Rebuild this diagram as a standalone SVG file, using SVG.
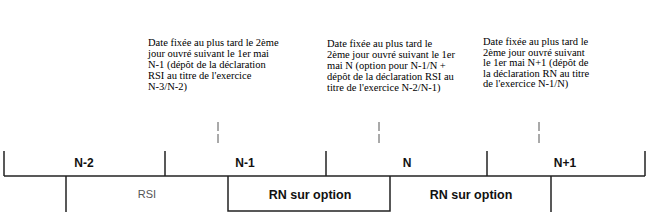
<svg xmlns="http://www.w3.org/2000/svg" width="650" height="216" viewBox="0 0 650 216">
<style>
.note{font-family:"Liberation Serif","Times New Roman",serif;font-size:10.5px;fill:#000}
.yr{font-family:"Liberation Sans",Arial,sans-serif;font-size:12px;font-weight:bold;fill:#111;text-anchor:middle}
.reg{font-family:"Liberation Sans",Arial,sans-serif;font-size:11px;fill:#555;text-anchor:middle}
.regb{font-family:"Liberation Sans",Arial,sans-serif;font-size:12.5px;font-weight:bold;fill:#111;text-anchor:middle}
.ln{stroke:#222;stroke-width:1.5;fill:none}
.dash{stroke:#555;stroke-width:1;stroke-dasharray:9 3;fill:none}
</style>
<rect width="650" height="216" fill="#fff"/>
<g id="note1">
<text class="note" x="148" y="46">Date fixée au plus tard le 2ème</text>
<text class="note" x="148" y="57">jour ouvré suivant le 1er mai</text>
<text class="note" x="148" y="68">N-1 (dépôt de la déclaration</text>
<text class="note" x="148" y="79">RSI au titre de l'exercice</text>
<text class="note" x="148" y="90">N-3/N-2)</text>
</g>
<g id="note2">
<text class="note" x="327" y="47">Date fixée au plus tard le</text>
<text class="note" x="327" y="58">2ème jour ouvré suivant le 1er</text>
<text class="note" x="327" y="69">mai N (option pour N-1/N +</text>
<text class="note" x="327" y="80">dépôt de la déclaration RSI au</text>
<text class="note" x="327" y="91">titre de l'exercice N-2/N-1)</text>
</g>
<g id="note3">
<text class="note" x="483" y="45">Date fixée au plus tard le</text>
<text class="note" x="483" y="56">2ème jour ouvré suivant</text>
<text class="note" x="483" y="66">le 1er mai N+1 (dépôt de</text>
<text class="note" x="483" y="77">la déclaration RN au titre</text>
<text class="note" x="483" y="87">de l'exercice N-1/N)</text>
</g>
<g id="connectors">
<line class="dash" x1="218" y1="122" x2="218" y2="143"/>
<line class="dash" x1="379" y1="122" x2="379" y2="143"/>
<line class="dash" x1="539" y1="122" x2="539" y2="143"/>
<line class="ln" x1="4" y1="176" x2="645" y2="176"/>
<line class="ln" x1="4" y1="151" x2="4" y2="176"/>
<line class="ln" x1="165" y1="151" x2="165" y2="176"/>
<line class="ln" x1="326" y1="151" x2="326" y2="176"/>
<line class="ln" x1="487" y1="151" x2="487" y2="176"/>
<line class="ln" x1="645" y1="151" x2="645" y2="176"/>
<line class="ln" x1="66" y1="176" x2="66" y2="212"/>
<line class="ln" x1="551" y1="176" x2="551" y2="212"/>
<polyline class="ln" points="228,176 228,211 390,211 390,176"/>
</g>
<g id="years">
<text class="yr" x="84" y="167">N-2</text>
<text class="yr" x="245" y="167">N-1</text>
<text class="yr" x="407" y="167">N</text>
<text class="yr" x="565" y="167">N+1</text>
</g>
<g id="regimes">
<text class="reg" x="147" y="198">RSI</text>
<text class="regb" x="310" y="199">RN sur option</text>
<text class="regb" x="471" y="199">RN sur option</text>
</g>
</svg>
